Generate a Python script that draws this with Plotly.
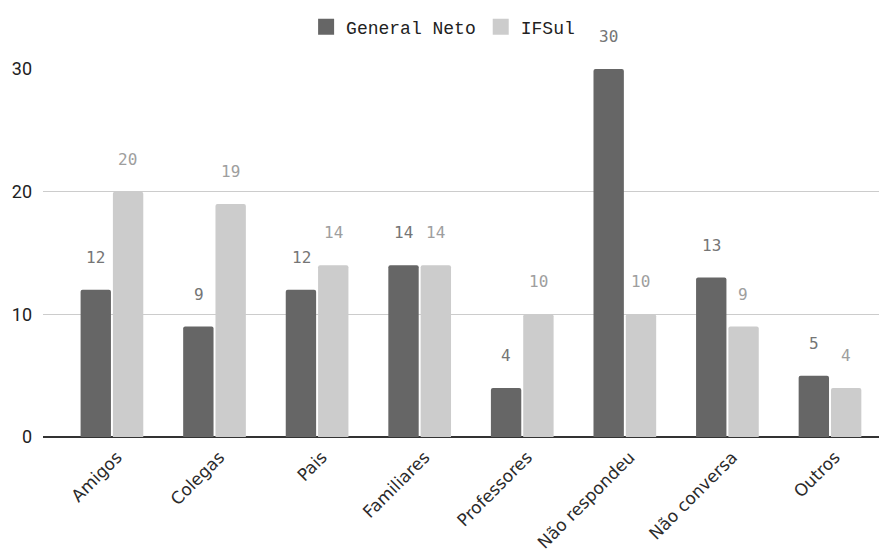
import plotly.graph_objects as go

categories = ["Amigos", "Colegas", "Pais", "Familiares", "Professores",
              "Não respondeu", "Não conversa", "Outros"]
general_neto = [12, 9, 12, 14, 4, 30, 13, 5]
ifsul = [20, 19, 14, 14, 10, 10, 9, 4]
series_names = ["General Neto", "IFSul"]
y_ticks = [0, 10, 20, 30]

DARK = "#666666"
LIGHT = "#cccccc"
MONO = "Liberation Mono, Courier New, monospace"
LABEL_FONT = "DejaVu Sans Mono, monospace"
SANS = "DejaVu Sans, Arial, sans-serif"
YFONT = "Roboto, Arial, sans-serif"

fig = go.Figure()
for name, vals, col in zip(series_names, [general_neto, ifsul], [DARK, LIGHT]):
    fig.add_trace(go.Bar(name=name, x=categories, y=vals, showlegend=False,
                         marker=dict(color=col, line=dict(width=0))))
# legend-only entries with larger square symbols
for name, col in zip(series_names, [DARK, LIGHT]):
    fig.add_trace(go.Scatter(name=name, x=[None], y=[None], mode="markers",
                             marker=dict(symbol="square", size=16, color=col,
                                         line=dict(width=0))))

annotations = []
for vals, shift, col in [(general_neto, -16, "#757575"), (ifsul, 16, "#9e9e9e")]:
    for c, v in zip(categories, vals):
        annotations.append(dict(x=c, y=v, xref="x", yref="y", text=str(v),
                                showarrow=False, xshift=shift, yshift=21,
                                yanchor="bottom",
                                font=dict(family=LABEL_FONT, size=16, color=col)))

fig.update_layout(
    width=879, height=545,
    margin=dict(l=35, r=1, t=61, b=116),
    paper_bgcolor="white", plot_bgcolor="white",
    barmode="group", bargap=0.37, bargroupgap=0.06,
    barcornerradius=2,
    annotations=annotations,
    legend=dict(orientation="h", xref="container", yref="container",
                x=0.495, xanchor="center", y=0.965, yanchor="middle",
                font=dict(family=MONO, size=18, color="#222222"),
                itemsizing="trace", traceorder="normal"),
    xaxis=dict(range=[-0.672, 7.546], tickangle=-45, showgrid=False,
               showline=False, ticks="", automargin=False,
               ticklabelstandoff=6, ticklabelshift=5,
               tickfont=dict(family=SANS, size=17, color="#2a2a2a")),
    yaxis=dict(range=[0, 30], tickvals=y_ticks, showgrid=True, gridcolor="#cccccc",
               gridwidth=1, zeroline=True, zerolinecolor="#333333", zerolinewidth=1.5,
               ticks="", ticklabelstandoff=10, automargin=False,
               tickfont=dict(family=YFONT, size=18, color="#222222")),
)

fig.write_html("out.html")
